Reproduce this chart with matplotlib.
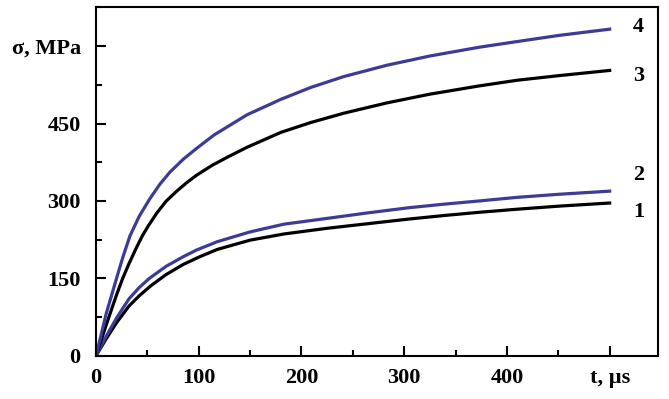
import matplotlib
matplotlib.use("Agg")
import matplotlib.pyplot as plt
from matplotlib.ticker import MultipleLocator

plt.rcParams["font.family"] = ["Liberation Serif", "DejaVu Serif"]
plt.rcParams["font.weight"] = "bold"

# curve 1 (black, lower)
t1 = [0, 10, 20, 32, 42, 53, 68, 85, 100, 118, 150, 183, 225, 265, 305, 340, 373, 410, 451, 500]
sigma1 = [0, 33, 64, 96, 116, 135, 157, 177, 191, 206, 224, 236, 247, 256, 265, 272, 278, 284, 290, 296]
# curve 2 (blue, lower)
t2 = [0, 10, 20, 32, 42, 52, 68, 85, 98, 118, 150, 183, 228, 265, 305, 340, 373, 410, 451, 500]
sigma2 = [0, 38, 73, 110, 132, 150, 173, 192, 205, 221, 240, 255, 267, 277, 287, 294, 300, 307, 313, 319]
# curve 3 (black, upper)
t3 = [0, 10, 20, 26, 32, 39, 45, 51, 59, 68, 78, 88, 98, 113, 129, 147, 180, 209, 241, 283, 325, 373,
      410, 451, 500]
sigma3 = [0, 60, 118, 150, 178, 208, 232, 252, 276, 299, 318, 335, 350, 369, 386, 404, 433, 452, 470,
          490, 507, 523, 534, 543, 553]
# curve 4 (blue, upper)
t4 = [0, 10, 20, 26, 33, 42, 52, 62, 72, 85, 98, 115, 147, 180, 209, 241, 283, 325, 373, 410, 451, 500]
sigma4 = [0, 82, 150, 190, 232, 270, 303, 332, 356, 381, 402, 428, 467, 497, 520, 541, 563, 581, 598,
          609, 621, 633]

curve_labels = ["1", "2", "3", "4"]
label_pos = [278, 350, 542, 637]

xticks = [0, 100, 200, 300, 400, 500]
xticklabels = ["0", "100", "200", "300", "400", "t, µs"]
yticks = [0, 150, 300, 450, 600]
yticklabels = ["0", "150", "300", "450", "σ, MPa"]

black = "#000000"
blue = "#3c3c96"

fig = plt.figure(figsize=(6.69, 3.99), dpi=100)
ax = fig.add_axes([0.1435, 0.1085, 0.84, 0.874])

ax.plot(t1, sigma1, color=black, lw=2.3, solid_joinstyle="round")
ax.plot(t2, sigma2, color=blue, lw=2.3, solid_joinstyle="round")
ax.plot(t3, sigma3, color=black, lw=2.3, solid_joinstyle="round")
ax.plot(t4, sigma4, color=blue, lw=2.3, solid_joinstyle="round")

for lab, yv in zip(curve_labels, label_pos):
    ax.text(528, yv, lab, fontsize=16, fontweight="bold", ha="center", va="center")

ax.set_xlim(0, 547)
ax.set_ylim(0, 676)
ax.set_xticks(xticks)
ax.set_xticklabels(xticklabels)
ax.set_yticks(yticks)
ax.set_yticklabels(yticklabels)
ax.xaxis.set_minor_locator(MultipleLocator(50))
ax.yaxis.set_minor_locator(MultipleLocator(75))

ax.tick_params(which="major", direction="in", length=7, width=1.5, labelsize=16, pad=9)
ax.tick_params(which="minor", direction="in", length=4, width=1.5)
ax.tick_params(axis="y", which="major", pad=11)

for s in ax.spines.values():
    s.set_linewidth(1.5)

fig.savefig("out.png", dpi=100)
